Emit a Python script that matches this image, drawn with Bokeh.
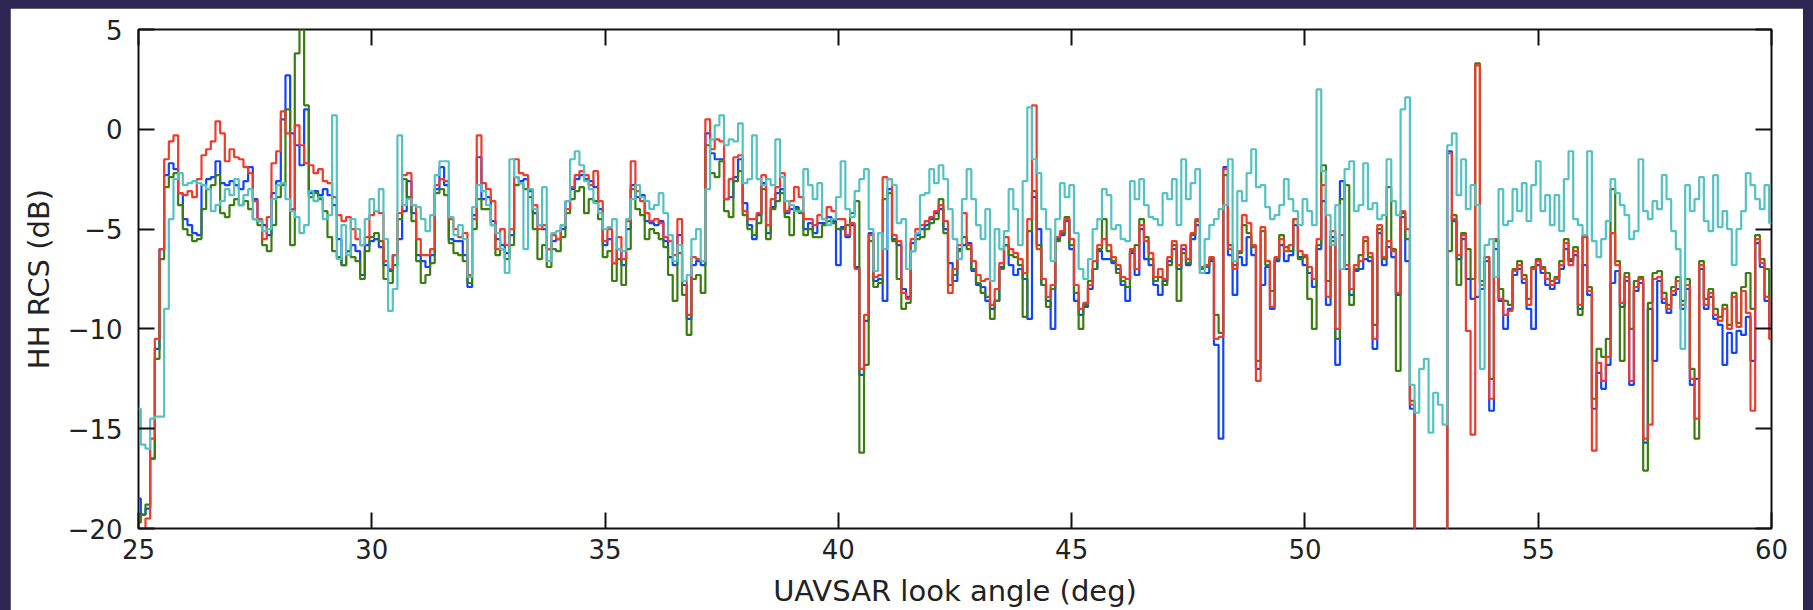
import numpy as np
from bokeh.plotting import figure
from bokeh.models import LinearAxis, FixedTicker, Range1d
from bokeh.embed import file_html
from bokeh.resources import INLINE

# ---------------- data (0.1 deg sampling) ----------------
angle_start = 25.0
angle_step = 0.1

red = [
    -25, -25, -19.5, -15.5, -10.5, -6.0, -1.5, -0.6, -0.3, -3.2,
    -3.3, -3.1, -3.4, -2.5, -1.3, -1.0, -0.6, 0.4, -0.2, -1.6,
    -1.0, -1.4, -1.5, -1.9, -2.2, -3.6, -4.5, -5.5, -4.4, -1.7,
    -1.1, 0.9, -0.2, -4.0, 0.2, -0.8, -1.7, -1.8, -2.2, -2.0,
    -2.6, -2.7, -3.4, -4.3, -4.6, -4.4, -5.0, -5.5, -5.8, -5.4,
    -4.3, -4.1, -4.2, -6.6, -7.0, -6.3, -4.2, -2.3,
    -2.2, -3.8, -5.5, -6.3, -6.3, -6.0, -2.8, -2.5, -2.6, -4.5,
    -5.0, -5.4, -5.2, -7.3, -4.5, -0.3, -2.7, -3.0, -3.6, -6.0,
    -5.0, -5.8, -5.0, -1.5, -2.2, -2.3, -3.0, -3.8, -5.0, -4.8,
    -6.0, -5.3, -5.5, -4.8, -4.0, -2.9, -2.3, -2.1, -2.3, -2.8,
    -2.1, -3.6, -5.6, -5.0, -6.7, -5.4, -6.5, -4.6, -1.6, -3.1,
    -3.6, -4.2, -4.6, -4.5, -4.7, -5.4, -5.6, -6.3, -4.5,
    -7.6, -9.3, -6.4, -6.5, -6.6, 0.5, -1.0, -0.5, -0.6, -3.5,
    -2.5, -1.4, -1.3, -4.1, -4.5, -4.5, -4.2, -2.3, -4.8, -3.5,
    -2.9, -2.2, -4.1, -3.6, -2.9, -3.4, -4.5, -4.5, -4.8, -4.3,
    -4.5, -3.9, -4.1, -4.5, -4.5, -5.3, -4.7, -7.0, -12.0, -9.3,
    -5.3, -7.4, -7.3, -2.4, -2.5, -5.3, -5.6, -8.2, -8.5, -5.5,
    -5.0, -4.8, -4.6, -4.4, -4.1, -3.8, -4.6, -8.2,
    -7.0, -5.8, -4.2, -5.8, -6.6, -7.3, -7.6, -7.5, -8.8, -8.0,
    -6.7, -5.4, -6.0, -6.2, -6.5, -7.2, -4.5, 1.2, -6.0, -7.5,
    -8.4, -7.8, -5.4, -5.1, -4.5, -5.5, -7.8, -9.0, -8.7, -7.8,
    -6.6, -5.8, -5.5, -5.8, -6.4, -6.8, -7.4, -7.5, -6.0, -7.0,
    -4.8, -5.6, -6.2, -7.4, -7.0, -7.5, -6.4, -5.6, -6.8, -5.8,
    -6.5, -5.2, -4.5, -6.9, -6.8, -6.4, -10.5,
    -10.4, -2.0, -6.0, -7.0, -6.1, -4.3, -4.7, -5.8, -12.6, -4.9,
    -6.6, -8.9, -6.4, -5.5, -6.1, -5.8, -4.5, -6.1, -6.3, -6.9,
    -7.5, -5.5, -2.8, -8.4, -5.1, -10.0, -5.3, -6.8, -8.0, -6.8,
    -6.6, -5.4, -6.2, -10.5, -4.8, -6.4, -5.6, -6.1, -8.2, -4.1,
    -5.0, -13.8, -30, -30, -30, -30, -30, -30, -30, -1.2,
    -4.5, -6.3, -5.3, -10.1, -15.3, 3.2, -7.8, -6.4,
    -13.5, -5.5, -8.5, -9.3, -9.1, -7.1, -6.8, -7.5, -8.8, -7.0,
    -6.6, -7.0, -7.5, -7.8, -7.5, -6.8, -5.7, -6.8, -6.1, -8.8,
    -5.4, -8.1, -16.1, -11.7, -12.6, -11.4, -5.2, -6.8, -8.7, -7.4,
    -12.6, -7.9, -7.5, -15.5, -14.8, -7.5, -7.4, -8.5, -9.0, -8.1,
    -7.6, -8.8, -7.8, -12.5, -14.5, -6.8, -8.8, -8.2, -9.3, -9.6,
    -9.0, -10.0, -8.4, -9.9, -8.1, -9.2, -14.1, -5.5, -6.7, -8.4,
    -10.5,
]

blue = [
    -18.5, -19.3, -19.0, -16.5, -11.0, -6.0, -2.3, -1.7, -2.0, -3.2,
    -4.5, -4.8, -5.2, -5.3, -2.8, -2.5, -2.4, -1.6, -2.7, -2.8,
    -2.6, -2.8, -3.0, -2.6, -1.9, -3.5, -4.6, -4.8, -5.3, -3.2,
    -2.6, 0.5, 2.7, -0.2, -0.8, -1.8, 1.0, -3.2, -3.1, -3.3,
    -3.0, -3.3, -3.8, -5.5, -6.8, -6.1, -5.8, -6.1, -7.3, -5.8,
    -5.6, -5.5, -5.9, -6.8, -7.1, -6.3, -5.5, -4.1,
    -2.6, -4.2, -6.3, -6.6, -6.9, -6.3, -3.0, -1.9, -2.8, -5.5,
    -5.6, -5.6, -6.3, -7.9, -4.3, -1.4, -3.5, -3.4, -4.6, -5.5,
    -5.8, -6.2, -5.3, -2.4, -2.6, -2.5, -3.1, -4.2, -4.8, -5.0,
    -6.0, -5.6, -5.5, -5.0, -3.6, -3.0, -2.5, -2.3, -2.5, -2.6,
    -2.9, -4.0, -5.8, -5.5, -6.7, -6.0, -6.8, -5.0, -2.8, -3.4,
    -3.3, -4.6, -4.7, -4.8, -4.6, -5.6, -6.4, -6.8, -5.3,
    -7.8, -9.5, -6.8, -6.6, -6.8, -0.2, -1.2, -1.5, -1.5, -3.5,
    -3.4, -2.4, -1.5, -3.7, -4.8, -5.5, -4.3, -2.7, -5.2, -3.9,
    -3.2, -3.0, -4.2, -4.0, -3.9, -4.1, -5.0, -4.7, -5.2, -4.7,
    -4.7, -4.4, -4.6, -6.8, -4.9, -5.4, -4.8, -6.9, -12.3, -9.6,
    -5.2, -7.6, -7.5, -8.6, -3.0, -5.5, -5.8, -8.0, -8.4, -5.7,
    -5.3, -5.0, -4.8, -4.5, -4.2, -4.0, -5.0, -6.7,
    -7.6, -6.0, -5.8, -5.7, -7.1, -7.8, -7.9, -8.6, -9.0, -8.6,
    -6.9, -5.8, -6.8, -7.3, -7.0, -7.5, -9.5, -3.4, -5.0, -7.8,
    -8.6, -10.0, -5.5, -5.3, -4.6, -6.0, -8.6, -9.3, -8.9, -8.0,
    -7.0, -6.1, -6.5, -6.5, -6.7, -7.0, -7.8, -8.6, -6.2, -7.3,
    -5.0, -6.5, -6.8, -7.8, -8.3, -7.6, -6.6, -6.0, -7.0, -6.0,
    -6.8, -5.5, -4.8, -7.2, -7.2, -6.6, -10.8,
    -15.5, -1.9, -6.3, -8.3, -6.4, -6.8, -5.4, -6.3, -12.0, -7.8,
    -6.9, -9.0, -6.6, -5.8, -6.6, -6.3, -4.8, -6.4, -6.8, -7.2,
    -7.9, -6.0, -3.6, -8.8, -5.4, -11.8, -2.6, -7.0, -8.3, -7.1,
    -7.0, -6.5, -6.6, -11.0, -5.2, -6.8, -5.9, -6.4, -8.3, -4.4,
    -6.6, -14.0, -30, -30, -30, -30, -30, -30, -30, -1.1,
    -4.6, -6.5, -5.5, -7.5, -8.5, -8.4, -8.0, -6.6,
    -14.1, -6.0, -8.6, -10.0, -9.0, -7.3, -7.0, -7.7, -9.0, -10.0,
    -6.8, -7.2, -7.8, -8.0, -7.7, -7.0, -6.0, -6.6, -6.3, -9.0,
    -6.8, -8.3, -14.0, -12.2, -13.0, -11.8, -7.7, -7.1, -8.9, -7.6,
    -12.8, -8.1, -7.7, -15.7, -9.0, -11.6, -7.6, -8.7, -9.2, -8.3,
    -8.0, -9.0, -8.0, -12.8, -12.5, -7.0, -9.0, -8.4, -9.5, -9.8,
    -11.8, -10.2, -11.2, -10.1, -10.3, -9.4, -11.6, -5.7, -6.9, -8.6,
    -9.8,
]

green = [
    -19.7, -19.3, -18.8, -16.5, -11.5, -6.5, -2.9, -2.4, -2.2, -3.8,
    -5.0, -5.3, -5.6, -5.5, -4.0, -3.0, -2.8, -2.3, -4.2, -4.4,
    -3.8, -3.5, -3.8, -3.6, -4.0, -4.5, -4.8, -5.8, -6.1, -4.8,
    -3.4, -2.8, 1.0, -5.8, 3.8, 5.0, 1.2, -3.4, -3.2, -3.5,
    -4.1, -5.4, -6.1, -6.4, -6.8, -6.1, -6.4, -6.6, -7.5, -6.1,
    -5.4, -5.2, -5.6, -7.5, -7.7, -6.8, -4.5, -2.5,
    -3.4, -4.6, -6.6, -7.7, -7.3, -6.7, -3.2, -3.0, -3.3, -5.7,
    -6.2, -6.3, -6.6, -7.7, -5.0, -3.5, -4.0, -4.0, -4.8, -6.3,
    -6.0, -6.5, -5.8, -2.8, -2.7, -3.0, -3.4, -5.0, -6.5, -5.8,
    -6.9, -6.0, -6.1, -5.4, -4.2, -3.5, -3.1, -2.9, -4.2, -3.5,
    -3.6, -4.5, -6.4, -6.1, -7.6, -6.5, -7.8, -6.0, -3.0, -4.0,
    -4.3, -5.5, -5.0, -5.2, -5.5, -5.9, -7.3, -8.6, -6.2,
    -8.3, -10.3, -7.5, -7.3, -8.2, -0.8, -2.2, -2.4, -1.6, -4.1,
    -4.4, -2.6, -2.1, -4.3, -5.0, -5.3, -4.7, -3.0, -5.5, -4.0,
    -3.6, -3.2, -4.4, -5.3, -4.0, -4.2, -5.3, -5.0, -5.4, -5.4,
    -4.8, -4.6, -4.7, -5.0, -5.0, -4.8, -4.2, -3.6, -16.2, -11.8,
    -5.6, -7.9, -7.7, -3.5, -3.2, -5.6, -7.5, -9.0, -8.7, -6.1,
    -5.5, -5.4, -5.0, -4.7, -4.5, -3.5, -5.2, -7.8,
    -7.3, -6.1, -5.4, -6.0, -7.0, -7.7, -8.2, -8.4, -9.5, -8.6,
    -7.0, -5.8, -6.3, -6.4, -6.8, -9.4, -5.1, -3.1, -5.8, -7.8,
    -8.9, -8.0, -5.6, -5.2, -4.4, -5.8, -8.2, -10.0, -8.8, -7.6,
    -7.0, -6.0, -4.5, -6.1, -6.6, -7.2, -7.6, -7.9, -6.1, -5.8,
    -4.5, -5.4, -6.5, -7.6, -7.4, -7.8, -6.8, -5.8, -8.6, -6.2,
    -6.7, -5.3, -4.6, -7.0, -6.9, -6.5, -9.3,
    -10.2, -2.3, -5.8, -6.8, -6.2, -4.8, -5.2, -5.9, -11.6, -5.1,
    -6.8, -8.1, -6.5, -5.3, -5.9, -6.1, -4.5, -6.5, -6.4, -8.5,
    -10.0, -5.8, -1.8, -7.6, -5.6, -10.5, -3.5, -2.8, -8.8, -7.0,
    -6.3, -5.6, -6.4, -9.8, -5.0, -6.5, -2.9, -6.0, -12.1, -4.2,
    -5.5, -13.6, -30, -30, -30, -30, -30, -30, -30, -6.1,
    -4.3, -7.8, -5.2, -6.0, -7.5, 3.3, -7.6, -6.4,
    -12.5, -5.6, -8.0, -8.6, -8.8, -7.0, -6.6, -7.3, -8.5, -6.9,
    -6.5, -6.9, -7.2, -7.6, -7.4, -6.6, -5.5, -6.5, -5.9, -9.3,
    -5.3, -7.9, -13.5, -11.0, -11.4, -10.5, -3.0, -6.6, -11.6, -7.2,
    -10.0, -7.6, -7.4, -17.1, -8.7, -7.2, -7.1, -8.2, -8.8, -7.9,
    -7.4, -8.6, -7.5, -12.0, -15.5, -6.6, -8.5, -8.0, -9.0, -9.4,
    -8.8, -9.8, -8.2, -9.7, -7.9, -7.2, -9.0, -5.3, -6.5, -7.0,
    -8.6,
]

cyan = [
    -14.0, -15.8, -16.0, -14.5, -14.4, -14.4, -9.0, -4.5, -2.5, -2.2,
    -2.8, -2.7, -2.6, -2.7, -2.8, -3.0, -4.1, -3.8, -3.6, -3.0,
    -3.3, -2.5, -3.8, -3.3, -3.0, -4.5, -4.6, -5.1, -5.0, -3.5,
    -2.8, -2.7, -3.5, -4.1, -4.4, -5.2, -4.8, -3.1, -3.6, -3.4,
    -4.5, -4.3, 0.7, -6.5, -4.8, -6.3, -4.5, -5.0, -5.8, -4.5,
    -3.5, -4.1, -3.0, -5.5, -9.1, -8.0, -0.3, -3.8,
    -3.5, -3.8, -3.9, -4.5, -5.1, -4.3, -2.3, -1.6, -1.6, -4.4,
    -5.3, -4.8, -5.5, -7.4, -3.9, -2.8, -3.1, -3.8, -4.8, -5.2,
    -6.0, -7.2, -1.5, -2.4, -2.7, -6.0, -3.0, -4.0, -4.8, -2.9,
    -6.6, -5.2, -5.1, -4.8, -3.6, -1.5, -1.1, -1.8, -2.6, -3.0,
    -3.7, -4.2, -5.0, -4.9, -4.5, -6.0, -6.1, -4.5, -3.5, -2.8,
    -3.4, -3.6, -4.0, -3.8, -3.2, -4.2, -5.3, -6.6, -5.8,
    -7.6, -7.3, -5.5, -5.0, -6.6, -3.0, -0.5, 0.2, 0.7, -0.8,
    -0.5, -0.6, 0.3, -2.7, -2.5, -0.3, -2.5, -2.8, -2.5, -2.8,
    -0.5, -2.4, -3.6, -3.8, -4.1, -4.1, -2.0, -2.8, -3.5, -2.7,
    -4.5, -4.8, -4.5, -3.4, -1.6, -4.0, -4.4, -3.1, -2.5, -2.0,
    -5.0, -7.1, -5.2, -6.0, -2.5, -2.8, -4.7, -4.5, -7.0, -6.1,
    -5.2, -3.3, -3.2, -2.0, -2.7, -1.8, -2.5, -4.0,
    -5.5, -6.5, -3.5, -2.0, -3.5, -4.8, -5.5, -4.0, -7.6, -5.0,
    -6.0, -5.1, -3.0, -4.0, -5.8, -2.6, 1.1, -1.5, -2.2, -4.0,
    -5.0, -6.6, -4.5, -2.7, -3.4, -2.8, -5.2, -7.0, -7.5, -6.5,
    -5.0, -4.5, -3.0, -3.3, -5.0, -4.8, -5.5, -5.6, -2.6, -3.5,
    -2.5, -3.8, -4.4, -4.5, -4.8, -3.2, -3.5, -2.5, -4.8, -1.5,
    -3.5, -2.7, -2.0, -7.2, -5.5, -4.8, -4.5,
    -4.0, -3.8, -1.5, -6.6, -3.1, -3.6, -2.2, -1.0, -2.9, -2.8,
    -3.9, -4.5, -4.3, -3.8, -2.5, -3.5, -4.1, -4.8, -3.5, -4.1,
    -4.8, 2.0, -2.1, -4.3, -5.8, -3.8, -7.0, -2.0, -1.6, -4.1,
    -3.8, -1.7, -4.0, -3.7, -4.5, -4.3, -1.5, -3.6, -4.3, 1.0,
    1.6, -12.8, -14.2, -12.0, -11.5, -15.2, -13.2, -13.8, -14.8, -0.8,
    -0.2, -3.3, -1.5, -4.0, -2.8, -3.8, -12.0, -5.8,
    -5.5, -7.4, -3.0, -4.8, -4.6, -3.0, -4.1, -2.7, -4.6, -2.8,
    -1.6, -4.1, -3.3, -4.8, -3.3, -5.1, -2.5, -1.1, -4.5, -4.8,
    -5.3, -1.1, -5.6, -6.4, -5.5, -4.6, -2.5, -3.2, -3.8, -4.3,
    -5.5, -5.1, -1.5, -4.1, -4.5, -3.6, -4.0, -2.3, -3.5, -5.1,
    -6.0, -11.0, -2.8, -4.1, -3.5, -2.4, -4.6, -5.1, -2.3, -4.9,
    -4.1, -5.0, -6.8, -5.0, -4.1, -2.2, -2.8, -3.5, -4.0, -2.8,
    -4.7,
]

x_ticks = [25, 30, 35, 40, 45, 50, 55, 60]
y_ticks = [-20, -15, -10, -5, 0, 5]
x_label = "UAVSAR look angle (deg)"
y_label = "HH RCS (dB)"

n = len(red)
assert len(blue) == n and len(green) == n and len(cyan) == n, (len(red), len(blue), len(green), len(cyan))
angle = np.round(angle_start + angle_step * np.arange(n), 2)

# ---------------- figure ----------------
FONT = "DejaVu Sans"
p = figure(
    width=1793, height=602,
    x_range=Range1d(25, 60), y_range=Range1d(-20, 5),
    output_backend="svg", toolbar_location=None,
    x_axis_location=None, y_axis_location=None,
    min_border_left=128, min_border_right=32, min_border_top=21, min_border_bottom=82,
    background_fill_color="white", border_fill_color="white",
)
p.grid.visible = False
p.outline_line_color = "#111111"
p.outline_line_width = 2

line_specs = [(blue, "#1144ff"), (green, "#3a7d10"), (red, "#ee3b2b"), (cyan, "#56c1c1")]
for vals, col in line_specs:
    p.step(angle, vals, mode="center", line_color=col, line_width=2.2)

def style_axis(ax, show_labels):
    ax.axis_line_color = None
    ax.major_tick_in = 16
    ax.major_tick_out = 0
    ax.major_tick_line_color = "#111111"
    ax.major_tick_line_width = 2
    ax.minor_tick_line_color = None
    ax.major_label_text_font = FONT
    ax.major_label_text_font_size = "26px"
    ax.major_label_text_color = "#222222"
    ax.axis_label_text_font = FONT
    ax.axis_label_text_font_size = "29px"
    ax.axis_label_text_font_style = "normal"
    ax.axis_label_text_color = "#222222"
    if not show_labels:
        ax.major_label_text_font_size = "0px"
        ax.major_label_text_alpha = 0

xb = LinearAxis(ticker=FixedTicker(ticks=x_ticks), axis_label=x_label)
style_axis(xb, True)
xb.major_label_standoff = 10
xb.axis_label_standoff = 12
p.add_layout(xb, "below")

xt = LinearAxis(ticker=FixedTicker(ticks=x_ticks))
style_axis(xt, False)
p.add_layout(xt, "above")

yl = LinearAxis(ticker=FixedTicker(ticks=y_ticks), axis_label=y_label)
style_axis(yl, True)
yl.major_label_standoff = 16
yl.axis_label_standoff = 9
p.add_layout(yl, "left")

yr = LinearAxis(ticker=FixedTicker(ticks=y_ticks))
style_axis(yr, False)
p.add_layout(yr, "right")

template = """{% block postamble %}<style>html { background: #2e2652; margin: 0; padding: 0; } body { background: #2e2652; margin: 8px 10px 0 10px; padding: 0; overflow: hidden; }</style>{% endblock %}"""
open("out.html", "w").write(file_html(p, INLINE, title="HH RCS", template=template))
